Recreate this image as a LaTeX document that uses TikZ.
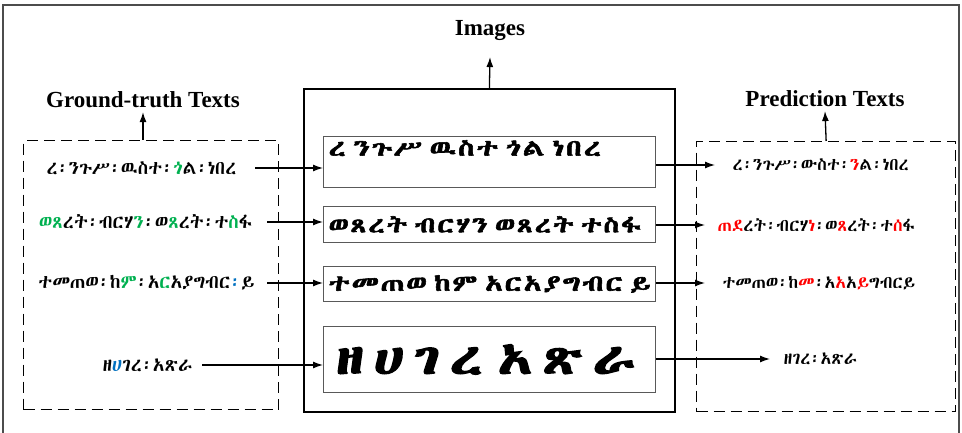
\documentclass[tikz,border=0pt]{standalone}
\usepackage{fontspec}
\setmainfont{Liberation Serif}
\def\geezname{DejaVu Sans}
\IfFontExistsTF{FreeSerif}{\def\geezname{FreeSerif}}{}
\IfFontExistsTF{Abyssinica SIL}{\def\geezname{Abyssinica SIL}}{}
\newfontfamily\geez{\geezname}
\newfontfamily\geezpix{\geezname}[FakeBold=2.5,FakeStretch=1.3,LetterSpace=8]
\newfontfamily\geezbig{\geezname}[FakeBold=3,FakeStretch=1.3,LetterSpace=22]
\usetikzlibrary{arrows.meta,positioning}
\definecolor{gtgreen}{RGB}{0,176,80}
\definecolor{gtblue}{RGB}{0,112,192}
\definecolor{prred}{RGB}{255,0,0}
\newcommand{\gc}[1]{\textcolor{gtgreen}{#1}}
\newcommand{\bc}[1]{\textcolor{gtblue}{#1}}
\newcommand{\rc}[1]{\textcolor{prred}{#1}}

\begin{document}
\begin{tikzpicture}[x=1pt, y=-1pt, line width=1.3pt,
	>={Latex[length=10pt,width=7pt]},
	head/.style={font=\fontsize{23}{25}\selectfont\bfseries},
	gtext/.style={font=\geez\fontsize{19}{21}\selectfont, inner ysep=0pt, anchor=east},
	ptext/.style={font=\geez\fontsize{17.5}{19}\selectfont, inner ysep=0pt, anchor=west},
	pixline/.style={draw=black!65, line width=0.9pt, anchor=north west, minimum width=332, text width=322, align=left, inner xsep=5pt},
	dashbox/.style={draw, dash pattern=on 11pt off 6pt, anchor=north west}]
\useasboundingbox (0,0) rectangle (962,433);
\draw[black!70, line width=1.5pt] (3,5) rectangle (959,450);

\node[draw, line width=1.8pt, anchor=north west, minimum width=371, minimum height=323] (imgs) at (303,88) {};
\node[head] (imghead) at (490,31) {Images};

\node[pixline, minimum height=51, text depth=28pt, font=\geezpix\fontsize{23}{25}\selectfont] (img1) at (323,136) {ረ ንጉሥ ዉስተ ጎል ነበረ};
\node[pixline, minimum height=36, font=\geezpix\fontsize{22}{23}\selectfont] (img2) at (323,206) {ወጸረት ብርሃን ወጸረት ተስፋ};
\node[pixline, minimum height=35, font=\geezpix\fontsize{22.5}{23}\selectfont] (img3) at (323,266) {ተመጠወ ከም አርአያግብር ይ};
\node[pixline, minimum height=66, inner xsep=12pt, text width=308, font=\geezbig\fontsize{44}{46}\selectfont] (img4) at (323,326) {ዘሀገረ አጽራ};

\node[dashbox, minimum width=255, minimum height=269] (gtbox) at (23,140) {};
\node[head] (gthead) at (143,100) {Ground-truth Texts};
\node[dashbox, minimum width=259, minimum height=270] (prbox) at (696,141) {};
\node[head] (prhead) at (825,99) {Prediction Texts};

\node[gtext, inner xsep=18pt] (gt1) at (255,168) {ረ፡ንጉሥ፡ዉስተ፡\gc{ጎ}ል፡ነበረ};
\node[gtext, inner xsep=14pt] (gt2) at (267,222) {\gc{ወጸ}ረት፡ብርሃ\gc{ን}፡ወ\gc{ጸ}ረት፡ተ\gc{ስ}ፋ};
\node[gtext, inner xsep=12pt] (gt3) at (267,283) {ተመጠወ፡ከ\gc{ም}፡አ\gc{ር}አያግብር\bc{፡}ይ};
\node[gtext, inner xsep=9pt] (gt4) at (202,365) {ዘ\bc{ሀ}ገረ፡አጽራ};

\node[ptext, inner xsep=17pt] (pr1) at (715,165) {ረ፡ንጉሥ፡ውስተ፡\rc{ን}ል፡ነበረ};
\node[ptext, inner xsep=12pt] (pr2) at (705,225) {\rc{ጠደ}ረት፡ብርሃ\rc{ነ}፡ወ\rc{ጸ}ረት፡ተ\rc{ሰ}ፋ};
\node[ptext, inner xsep=17pt] (pr3) at (705,283) {ተመጠወ፡ከ\rc{መ}፡አ\rc{አ}አ\rc{ይ}ግብርይ};
\node[ptext, inner xsep=13pt] (pr4) at (770,359) {ዘገረ፡አጽራ};

\path[->]
(imgs.north) edge ([yshift=-12pt]imghead.south)
(gthead.south |- gtbox.north) edge (gthead.south)
(prbox.north) edge (prhead.south)
;
\path[->]
(gt1) edge (gt1 -| img1.west)
(gt2) edge (gt2 -| img2.west)
(gt3) edge (gt3 -| img3.west)
(gt4) edge (gt4 -| img4.west)
;
\path[->]
(img1.east |- pr1) edge (pr1)
(img2.east |- pr2) edge (pr2)
(img3.east |- pr3) edge (pr3)
(img4.east |- pr4) edge (pr4)
;
\end{tikzpicture}
\end{document}
